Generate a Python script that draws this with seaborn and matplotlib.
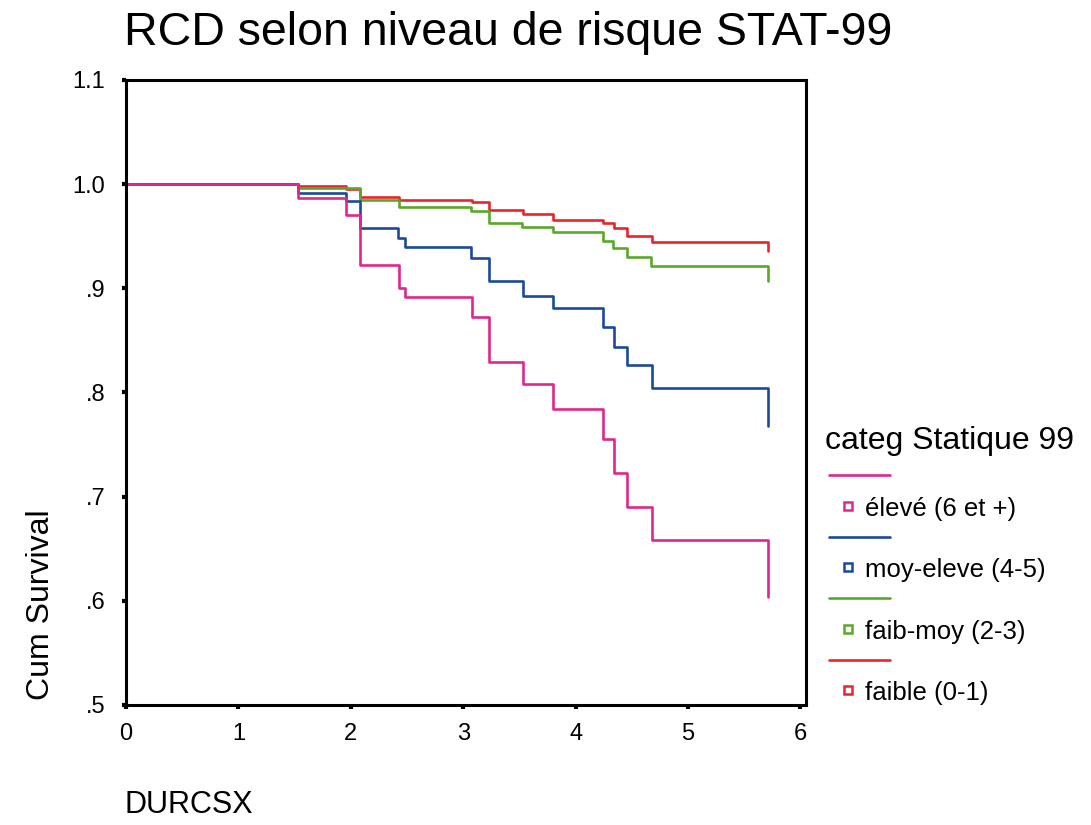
import matplotlib
matplotlib.use("Agg")
import matplotlib.pyplot as plt
import seaborn as sns
import pandas as pd
from matplotlib.lines import Line2D

# ---- data ----
groups = ["élevé (6 et +)", "moy-eleve (4-5)", "faib-moy (2-3)", "faible (0-1)"]
colors = ["#e2268f", "#1b4a9c", "#5aa829", "#e8252b"]

t_eleve = [0, 1.53, 1.96, 2.08, 2.43, 2.48, 3.08, 3.23, 3.53, 3.80, 4.24, 4.34, 4.46, 4.68, 5.71]
s_eleve = [1.0, 0.987, 0.970, 0.922, 0.900, 0.892, 0.872, 0.829, 0.808, 0.784, 0.755, 0.723, 0.690, 0.658, 0.604]

t_moyel = [0, 1.53, 1.96, 2.08, 2.42, 2.48, 3.07, 3.23, 3.53, 3.80, 4.24, 4.34, 4.46, 4.68, 5.71]
s_moyel = [1.0, 0.991, 0.984, 0.958, 0.948, 0.940, 0.929, 0.907, 0.893, 0.881, 0.863, 0.844, 0.826, 0.804, 0.768]

t_faibm = [0, 1.53, 2.08, 2.43, 3.07, 3.23, 3.52, 3.80, 4.24, 4.33, 4.46, 4.67, 5.71]
s_faibm = [1.0, 0.996, 0.985, 0.978, 0.974, 0.963, 0.959, 0.954, 0.945, 0.939, 0.930, 0.921, 0.907]

t_faib = [0, 1.53, 1.96, 2.08, 2.43, 3.08, 3.23, 3.53, 3.80, 4.24, 4.34, 4.46, 4.68, 5.71]
s_faib = [1.0, 0.998, 0.995, 0.988, 0.985, 0.983, 0.975, 0.971, 0.966, 0.963, 0.958, 0.950, 0.944, 0.936]

x_ticks = [0, 1, 2, 3, 4, 5, 6]
y_ticks = [0.5, 0.6, 0.7, 0.8, 0.9, 1.0, 1.1]
y_ticklabels = [".5", ".6", ".7", ".8", ".9", "1.0", "1.1"]

title = "RCD selon niveau de risque STAT-99"
legend_title = "categ Statique 99"

# ---- build long frame ----
rows = []
for g, ts, ss in zip(groups, [t_eleve, t_moyel, t_faibm, t_faib],
                     [s_eleve, s_moyel, s_faibm, s_faib]):
    for t, s in zip(ts, ss):
        rows.append({"DURCSX": t, "surv": s, "grp": g})
df = pd.DataFrame(rows)

sns.set_style("white")
plt.rcParams["font.family"] = ["Liberation Sans", "DejaVu Sans"]
plt.rcParams["text.color"] = "black"
plt.rcParams["xtick.color"] = "black"
plt.rcParams["ytick.color"] = "black"

fig = plt.figure(figsize=(10.91, 8.25), dpi=100)
ax = fig.add_axes([0.1155, 0.1455, 0.6233, 0.7576])

# draw in reverse so red sits on top like reference
for g, c in list(zip(groups, colors))[::-1]:
    sns.lineplot(data=df[df.grp == g], x="DURCSX", y="surv", color=c,
                 estimator=None, drawstyle="steps-post", linewidth=1.9,
                 ax=ax, legend=False)

ax.set_xlim(0, 6.05)
ax.set_ylim(0.5, 1.1)
ax.set_xticks(x_ticks)
ax.set_xticklabels([str(v) for v in x_ticks], fontsize=17)
ax.set_yticks(y_ticks)
ax.set_yticklabels(y_ticklabels, fontsize=17)
ax.tick_params(axis="both", direction="out", length=3, width=3, color="black",
               labelcolor="black", left=True, bottom=True)
ax.tick_params(axis="x", pad=10)
ax.tick_params(axis="y", pad=12)
for sp in ax.spines.values():
    sp.set_visible(True)
    sp.set_color("black")
    sp.set_linewidth(2.2)
ax.set_xlabel("")
ax.set_ylabel("")

fig.text(0.114, 0.960, title, fontsize=33.5, ha="left", va="center", color="black")
fig.text(0.038, 0.267, "Cum Survival", fontsize=23, rotation=90, ha="center",
         va="center", color="black")
fig.text(0.114, 0.024, "DURCSX", fontsize=22, ha="left", va="center", color="black")

# ---- custom legend ----
fig.text(0.756, 0.466, legend_title, fontsize=23, ha="left", va="center", color="black")
y0 = 0.424
step = 0.0745
for i, (g, c) in enumerate(zip(groups, colors)):
    yl = y0 - i * step
    fig.add_artist(Line2D([0.760, 0.816], [yl, yl], color=c, linewidth=1.9,
                          transform=fig.transFigure))
    ym = yl - 0.041
    fig.add_artist(Line2D([0.7775], [ym + 0.004], marker="s", markersize=6,
                          markerfacecolor="white", markeredgecolor=c,
                          markeredgewidth=1.8, linestyle="none",
                          transform=fig.transFigure))
    fig.text(0.793, ym, g, fontsize=18.5, ha="left", va="center", color="black")

fig.savefig("out.png", dpi=100)
